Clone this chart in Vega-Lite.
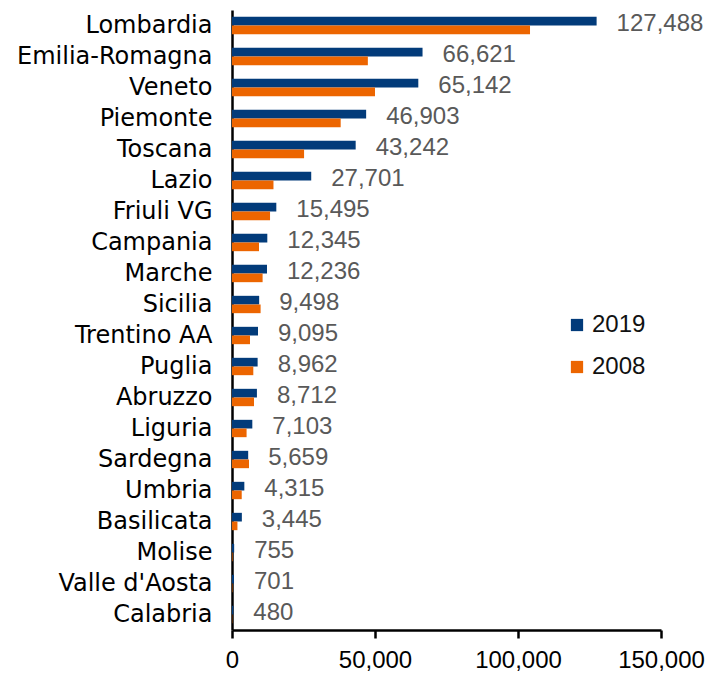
{
  "$schema": "https://vega.github.io/schema/vega-lite/v6.json",
  "width": 429,
  "height": 620,
  "autosize": "none",
  "padding": {"left": 232, "top": 10, "right": 48, "bottom": 47},
  "config": {"view": {"stroke": null}, "font": "DejaVu Sans"},
  "data": {"values": [
    {"region": "Lombardia", "year": "2019", "value": 127488},
    {"region": "Lombardia", "year": "2008", "value": 104200},
    {"region": "Emilia-Romagna", "year": "2019", "value": 66621},
    {"region": "Emilia-Romagna", "year": "2008", "value": 47500},
    {"region": "Veneto", "year": "2019", "value": 65142},
    {"region": "Veneto", "year": "2008", "value": 50000},
    {"region": "Piemonte", "year": "2019", "value": 46903},
    {"region": "Piemonte", "year": "2008", "value": 38000},
    {"region": "Toscana", "year": "2019", "value": 43242},
    {"region": "Toscana", "year": "2008", "value": 25200},
    {"region": "Lazio", "year": "2019", "value": 27701},
    {"region": "Lazio", "year": "2008", "value": 14500},
    {"region": "Friuli VG", "year": "2019", "value": 15495},
    {"region": "Friuli VG", "year": "2008", "value": 13300},
    {"region": "Campania", "year": "2019", "value": 12345},
    {"region": "Campania", "year": "2008", "value": 9450},
    {"region": "Marche", "year": "2019", "value": 12236},
    {"region": "Marche", "year": "2008", "value": 10700},
    {"region": "Sicilia", "year": "2019", "value": 9498},
    {"region": "Sicilia", "year": "2008", "value": 10000},
    {"region": "Trentino AA", "year": "2019", "value": 9095},
    {"region": "Trentino AA", "year": "2008", "value": 6300},
    {"region": "Puglia", "year": "2019", "value": 8962},
    {"region": "Puglia", "year": "2008", "value": 7450},
    {"region": "Abruzzo", "year": "2019", "value": 8712},
    {"region": "Abruzzo", "year": "2008", "value": 7700},
    {"region": "Liguria", "year": "2019", "value": 7103},
    {"region": "Liguria", "year": "2008", "value": 5100},
    {"region": "Sardegna", "year": "2019", "value": 5659},
    {"region": "Sardegna", "year": "2008", "value": 5950},
    {"region": "Umbria", "year": "2019", "value": 4315},
    {"region": "Umbria", "year": "2008", "value": 3400},
    {"region": "Basilicata", "year": "2019", "value": 3445},
    {"region": "Basilicata", "year": "2008", "value": 1900},
    {"region": "Molise", "year": "2019", "value": 755},
    {"region": "Molise", "year": "2008", "value": 200},
    {"region": "Valle d'Aosta", "year": "2019", "value": 701},
    {"region": "Valle d'Aosta", "year": "2008", "value": 150},
    {"region": "Calabria", "year": "2019", "value": 480},
    {"region": "Calabria", "year": "2008", "value": 100}
  ]},
  "encoding": {
    "y": {
      "field": "region", "type": "nominal", "sort": null,
      "scale": {"paddingInner": 0.44, "paddingOuter": 0.22},
      "axis": {
        "title": null, "ticks": false, "labelFontSize": 24, "labelColor": "#000000",
        "labelPadding": 20, "domainColor": "#000000", "domainWidth": 2.5, "labelLimit": 300
      }
    },
    "x": {
      "field": "value", "type": "quantitative",
      "scale": {"domain": [0, 150000], "nice": false},
      "axis": {
        "title": null, "grid": false, "values": [0, 50000, 100000, 150000], "format": ",.0f",
        "labelFont": "Liberation Sans", "labelFontSize": 24, "labelColor": "#000000", "labelPadding": 10,
        "tickSize": 8, "tickColor": "#000000", "tickWidth": 2.5,
        "domainColor": "#000000", "domainWidth": 2.5, "labelFlush": false, "labelOverlap": false
      }
    }
  },
  "layer": [
    {
      "mark": {"type": "bar"},
      "encoding": {
        "yOffset": {"field": "year", "type": "nominal", "sort": ["2019", "2008"]},
        "color": {
          "field": "year", "type": "nominal",
          "scale": {"domain": ["2019", "2008"], "range": ["#023B7A", "#EC6500"]},
          "legend": {
            "title": null, "orient": "none", "legendX": 333, "legendY": 303,
            "symbolType": "square", "symbolSize": 150, "symbolStrokeWidth": 0,
            "labelFont": "Liberation Sans", "labelFontSize": 24, "labelColor": "#111111", "rowPadding": 18, "labelOffset": 3
          }
        }
      }
    },
    {
      "transform": [{"filter": "datum.year === '2019'"}],
      "mark": {"type": "text", "align": "left", "baseline": "middle", "dx": 20, "dy": -2, "font": "Liberation Sans", "fontSize": 24, "color": "#595959"},
      "encoding": {
        "text": {"field": "value", "type": "quantitative", "format": ",.0f"}
      }
    }
  ]
}
